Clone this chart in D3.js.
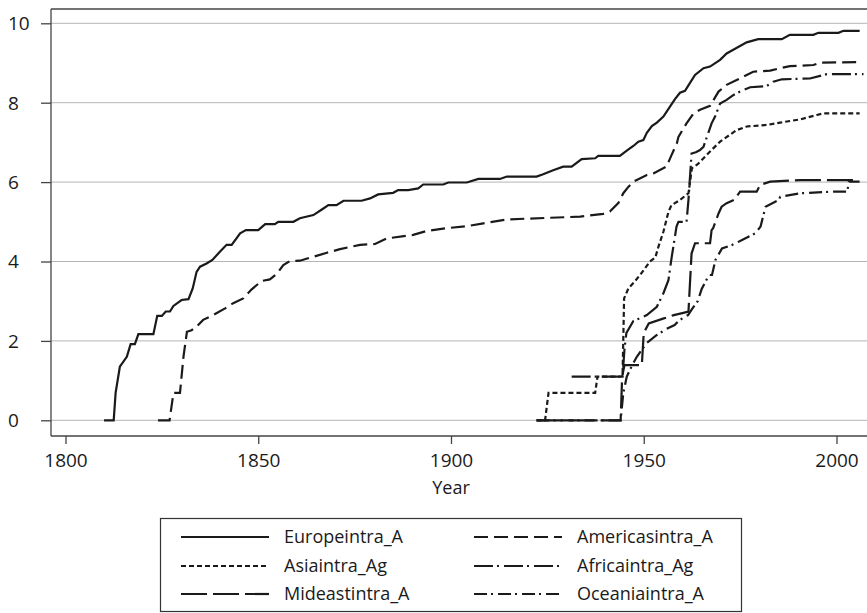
<!DOCTYPE html>
<html>
<head>
<meta charset="utf-8">
<script src="https://cdn.jsdelivr.net/npm/d3@7"></script>
<style>
  body { margin: 0; background: #fff; }
  svg text { font-family: "Open Sans", "Noto Sans", sans-serif; fill: #1a1a1a; }
</style>
</head>
<body>
<svg id="chart" width="867" height="613"></svg>
<script>
// values are [year, value]
const europe = [
  [1810, 0], [1812.5, 0], [1813, 0.69], [1814.1, 1.35], [1815.9, 1.6], [1816.9, 1.92], [1818, 1.92],
  [1818.9, 2.17], [1822.8, 2.17], [1823.8, 2.63], [1825, 2.63], [1826, 2.74], [1827.1, 2.74],
  [1828, 2.88], [1830.1, 3.03], [1831.9, 3.05], [1833, 3.32], [1834, 3.74], [1834.9, 3.87],
  [1836.6, 3.95], [1838.1, 4.04], [1840.1, 4.25], [1841.8, 4.42], [1843.1, 4.42], [1845.3, 4.71],
  [1846.8, 4.79], [1850, 4.79], [1851.8, 4.94], [1854.3, 4.94], [1855.2, 5.0], [1859.1, 5.0],
  [1860.8, 5.09], [1864.3, 5.17], [1866.5, 5.31], [1868.2, 5.42], [1870.3, 5.42], [1872.1, 5.53],
  [1876.8, 5.53], [1879, 5.59], [1881.1, 5.69], [1885, 5.73], [1886.3, 5.8], [1888.9, 5.8],
  [1891.5, 5.84], [1892.8, 5.94], [1898, 5.94], [1899.3, 5.99], [1904.1, 5.99], [1907.1, 6.08],
  [1912.7, 6.08], [1914.5, 6.14], [1922.2, 6.14], [1923.9, 6.2], [1926.5, 6.3], [1929.1, 6.39],
  [1931.3, 6.39], [1933.9, 6.58], [1937.4, 6.6], [1938.2, 6.66], [1943.8, 6.66], [1945.6, 6.79],
  [1947.3, 6.91], [1948.6, 7.02], [1949.9, 7.06], [1950.8, 7.24], [1952.1, 7.41], [1953.4, 7.5],
  [1955.1, 7.65], [1956.8, 7.9], [1958.1, 8.09], [1959.4, 8.25], [1960.7, 8.3], [1962, 8.5],
  [1963.3, 8.7], [1965.5, 8.87], [1967.2, 8.91], [1969.8, 9.08], [1971.5, 9.24], [1976.7, 9.52],
  [1979.7, 9.6], [1985.8, 9.6], [1987.9, 9.71], [1994, 9.71], [1995.3, 9.76], [2000.5, 9.76],
  [2001.8, 9.81], [2006, 9.81]
];
const americas = [
  [1824, 0], [1827, 0], [1828, 0.69], [1829.7, 0.69], [1830.6, 1.6], [1831.5, 2.23], [1832.7, 2.27],
  [1834, 2.36], [1835.7, 2.53], [1838.3, 2.65], [1841.4, 2.82], [1843.5, 2.95], [1846.1, 3.07],
  [1848.3, 3.3], [1850.9, 3.51], [1853, 3.55], [1854.8, 3.69], [1856.5, 3.91], [1858.2, 4.01],
  [1860.8, 4.02], [1864.3, 4.12], [1867.8, 4.22], [1871.2, 4.31], [1876.4, 4.42], [1880.3, 4.44],
  [1883.3, 4.58], [1890.2, 4.67], [1893.7, 4.77], [1898.9, 4.84], [1904.1, 4.89], [1908.4, 4.96],
  [1914.5, 5.06], [1933.5, 5.13], [1939.5, 5.2], [1941.2, 5.26], [1943.4, 5.47], [1944.7, 5.72],
  [1946, 5.88], [1947.3, 6.01], [1950.8, 6.18], [1952.5, 6.22], [1955.9, 6.39], [1957.2, 6.68],
  [1958.6, 6.98], [1959, 7.14], [1961.1, 7.48], [1962.9, 7.73], [1964.6, 7.82], [1967.2, 7.92],
  [1969.4, 8.28], [1971.5, 8.45], [1974.1, 8.57], [1976.7, 8.7], [1978.4, 8.78], [1982.8, 8.81],
  [1985.4, 8.87], [1987.9, 8.92], [1994, 8.95], [1995.8, 9.01], [2005.5, 9.02]
];
const asia = [
  [1922.2, 0], [1924.4, 0], [1925.3, 0.69], [1937.4, 0.69], [1938, 1.1], [1944.5, 1.1],
  [1944.9, 3.07], [1946, 3.32], [1947.7, 3.5], [1949.5, 3.72], [1951.6, 4.0], [1953, 4.1],
  [1953.8, 4.37], [1955.1, 4.75], [1956.4, 5.25], [1957.2, 5.42], [1959.4, 5.55], [1961.6, 5.72],
  [1962.5, 6.35], [1964, 6.45], [1965.5, 6.6], [1967.2, 6.77], [1969.8, 7.02], [1974.1, 7.31],
  [1976.7, 7.4], [1981.9, 7.44], [1985.4, 7.5], [1990.6, 7.58], [1994.9, 7.69], [1996.6, 7.73],
  [2006, 7.73]
];
const africa = [
  [1931.3, 1.1], [1944.5, 1.1], [1945, 1.79], [1945.5, 2.2], [1947.3, 2.5], [1950.8, 2.65],
  [1953.4, 2.86], [1955.1, 3.2], [1956.4, 3.53], [1957.2, 4.08], [1958.5, 4.88], [1959, 5.0],
  [1961.1, 5.0], [1961.6, 5.55], [1962.4, 6.72], [1963.5, 6.75], [1964.5, 6.8], [1965.5, 6.89],
  [1967.6, 7.48], [1968.5, 7.65], [1969.8, 7.98], [1971.5, 8.07], [1973.2, 8.19], [1975, 8.28],
  [1977.6, 8.39], [1981.9, 8.42], [1983.6, 8.53], [1985.8, 8.59], [1993.1, 8.61], [1997.5, 8.72],
  [2007, 8.72]
];
const mideast = [
  [1922.2, 0], [1944, 0], [1944.4, 1.1], [1945, 1.39], [1949.5, 1.39], [1950, 2.2], [1951.3, 2.44],
  [1955, 2.56], [1957.8, 2.65], [1960, 2.7], [1961.6, 2.74], [1962.4, 4.2], [1963.3, 4.46],
  [1967.2, 4.46], [1967.6, 4.79], [1968, 4.84], [1969.4, 5.21], [1970.2, 5.38], [1971.5, 5.47],
  [1973.4, 5.55], [1975, 5.76], [1979.3, 5.76], [1980.2, 5.93], [1982.8, 6.01], [1990.6, 6.05],
  [2005.5, 6.05]
];
const oceania = [
  [1922.2, 0], [1944, 0], [1944.7, 0.69], [1945.6, 1.1], [1947, 1.39], [1948.2, 1.6], [1950.8, 1.95],
  [1953.4, 2.15], [1955.9, 2.3], [1958, 2.4], [1959, 2.5], [1960.5, 2.6], [1961.5, 2.65],
  [1962.5, 2.8], [1964, 3.0], [1965, 3.3], [1966.9, 3.66], [1967.7, 3.66], [1968.6, 4.04],
  [1970.3, 4.33], [1973, 4.42], [1975.5, 4.54], [1978.9, 4.71], [1980.3, 4.88], [1981.6, 5.38],
  [1985, 5.55], [1985.4, 5.63], [1990.6, 5.72], [1999.3, 5.76], [2002.8, 5.76], [2003.2, 6.01],
  [2006, 6.01]
];

const seriesNames = ["Europeintra_A", "Americasintra_A", "Asiaintra_Ag", "Africaintra_Ag", "Mideastintra_A", "Oceaniaintra_A"];
const seriesData = [europe, americas, asia, africa, mideast, oceania];
const xTicks = [1800, 1850, 1900, 1950, 2000];
const yTicks = [0, 2, 4, 6, 8, 10];
const xTitle = "Year";

// line patterns, same order as seriesNames
const DASH = [null, "14,6", "5,3", "19,4,2,5", "26,6", "13,4,2,5"];

const svg = d3.select("#chart");
const plotL = 51, plotT = 9, plotB = 436, plotR = 867;

const x = d3.scaleLinear().domain([1800, 2000]).range([65.5, 836.5]);
const y = d3.scaleLinear().domain([0, 10]).range([420.3, 23.3]);

// gridlines
svg.append("g").selectAll("line").data(yTicks).join("line")
  .attr("x1", plotL).attr("x2", plotR)
  .attr("y1", d => y(d)).attr("y2", d => y(d))
  .attr("stroke", "#b5b5b5").attr("stroke-width", 1);

// frame: top line, left axis, bottom axis
svg.append("line").attr("x1", plotL).attr("x2", plotR).attr("y1", plotT).attr("y2", plotT)
  .attr("stroke", "#444").attr("stroke-width", 1.3);

const yAxis = svg.append("g").attr("transform", `translate(${plotL},0)`)
  .call(d3.axisLeft(y).tickValues(yTicks).tickSize(10).tickSizeOuter(0).tickFormat(d3.format("d")));
yAxis.select(".domain").attr("d", `M0,${plotT}V${plotB}`);

const xAxis = svg.append("g").attr("transform", `translate(0,${plotB})`)
  .call(d3.axisBottom(x).tickValues(xTicks).tickSize(8).tickSizeOuter(0).tickFormat(d3.format("d")));
xAxis.select(".domain").attr("d", `M${plotL},0H${plotR}`);

svg.selectAll(".domain, .tick line").attr("stroke", "#444").attr("stroke-width", 1.3);
yAxis.selectAll("text").attr("x", -43).attr("text-anchor", "start")
  .style("font-size", "19px").attr("dy", "0.34em");
xAxis.selectAll("text").attr("y", 18).attr("dy", "0.71em").style("font-size", "19px");

svg.append("text").attr("x", x(1900)).attr("y", 494)
  .attr("text-anchor", "middle").style("font-size", "18px").text(xTitle);

// series
const line = d3.line().x(d => x(d[0])).y(d => y(d[1]));
seriesData.forEach((s, i) => {
  svg.append("path").datum(s)
    .attr("d", line)
    .attr("fill", "none")
    .attr("stroke", "#1a1a1a")
    .attr("stroke-width", 2.2)
    .attr("stroke-dasharray", DASH[i]);
});

// legend
const lg = svg.append("g");
lg.append("rect").attr("x", 160.5).attr("y", 518.5).attr("width", 581).attr("height", 93)
  .attr("fill", "#fff").attr("stroke", "#333").attr("stroke-width", 1.2);

const colX = [181, 474];
const rowY = [537, 566, 594];
seriesNames.forEach((name, i) => {
  const cx = colX[i % 2], cy = rowY[Math.floor(i / 2)];
  lg.append("line").attr("x1", cx).attr("x2", cx + 88).attr("y1", cy).attr("y2", cy)
    .attr("stroke", "#1a1a1a").attr("stroke-width", 2.2)
    .attr("stroke-dasharray", DASH[i]);
  lg.append("text").attr("x", cx + 103).attr("y", cy).attr("dy", "0.35em")
    .style("font-size", "18px").text(name);
});
</script>
</body>
</html>
